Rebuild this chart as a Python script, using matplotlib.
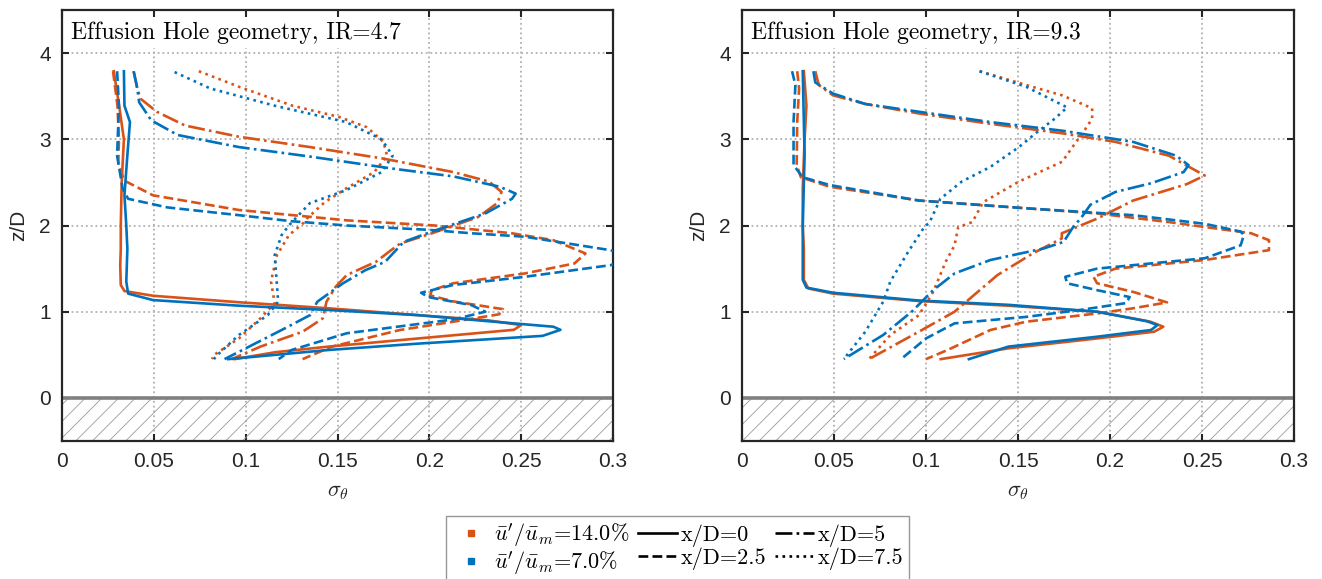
import matplotlib
matplotlib.use('Agg')
import matplotlib.pyplot as plt
from matplotlib.lines import Line2D
from matplotlib.ticker import FuncFormatter

plt.rcParams['font.family'] = ['Liberation Sans', 'DejaVu Sans']
plt.rcParams['mathtext.fontset'] = 'cm'
plt.rcParams['hatch.color'] = '#9a9a9a'
plt.rcParams['hatch.linewidth'] = 0.6

orange = '#D95319'
blue = '#0072BD'

# ---- IR=4.7 : sigma_theta (s) against z/D (z) ----
# u'/u_m = 14.0 %
a_hi_0_s = [0.0282, 0.0311, 0.0337, 0.0325, 0.032, 0.032, 0.0317, 0.032, 0.034, 0.0496, 0.0963, 0.145, 0.194, 0.232, 0.250, 0.246, 0.194, 0.145, 0.116, 0.094]
a_hi_0_z = [3.79, 3.39, 3.0, 2.5, 2.0, 1.73, 1.54, 1.31, 1.24, 1.185, 1.11, 1.04, 0.96, 0.90, 0.845, 0.79, 0.69, 0.595, 0.53, 0.45]
a_hi_25_s = [0.0278, 0.0302, 0.031, 0.0306, 0.034, 0.0496, 0.0963, 0.155, 0.203, 0.245, 0.2675, 0.285, 0.279, 0.252, 0.213, 0.2014, 0.2004, 0.213, 0.240, 0.238, 0.213, 0.184, 0.147, 0.131]
a_hi_25_z = [3.79, 3.39, 3.0, 2.7, 2.52, 2.35, 2.18, 2.06, 2.0, 1.91, 1.83, 1.676, 1.56, 1.444, 1.33, 1.25, 1.19, 1.12, 1.03, 0.97, 0.884, 0.788, 0.595, 0.45]
a_hi_5_s = [0.039, 0.041, 0.0428, 0.0516, 0.067, 0.0963, 0.135, 0.174, 0.213, 0.2325, 0.2393, 0.237, 0.2267, 0.2014, 0.184, 0.178, 0.171, 0.155, 0.149, 0.144, 0.142, 0.131, 0.108, 0.0924]
a_hi_5_z = [3.79, 3.59, 3.47, 3.32, 3.16, 3.03, 2.91, 2.78, 2.62, 2.51, 2.39, 2.26, 2.1, 1.91, 1.79, 1.695, 1.58, 1.425, 1.29, 1.116, 0.923, 0.768, 0.595, 0.45]
a_hi_75_s = [0.0745, 0.0963, 0.1255, 0.1508, 0.166, 0.175, 0.177, 0.170, 0.1547, 0.143, 0.1333, 0.131, 0.1236, 0.117, 0.1138, 0.1158, 0.108, 0.0963, 0.0827, 0.0817]
a_hi_75_z = [3.79, 3.61, 3.39, 3.26, 3.14, 2.97, 2.81, 2.62, 2.43, 2.27, 2.08, 2.02, 1.89, 1.656, 1.35, 1.1, 0.923, 0.69, 0.498, 0.45]
# u'/u_m = 7.0 %
a_lo_0_s = [0.0337, 0.034, 0.037, 0.0356, 0.034, 0.035, 0.0356, 0.035, 0.036, 0.0496, 0.0963, 0.145, 0.194, 0.232, 0.2675, 0.2714, 0.2617, 0.194, 0.145, 0.0905]
a_lo_0_z = [3.79, 3.39, 3.2, 2.82, 2.35, 2.0, 1.73, 1.35, 1.21, 1.135, 1.07, 1.02, 0.96, 0.89, 0.826, 0.79, 0.72, 0.63, 0.556, 0.45]
a_lo_25_s = [0.030, 0.031, 0.030, 0.033, 0.036, 0.0574, 0.0963, 0.125, 0.155, 0.1994, 0.223, 0.252, 0.2986, 0.312, 0.2986, 0.252, 0.213, 0.1955, 0.1994, 0.2228, 0.2305, 0.213, 0.155, 0.125, 0.118]
a_lo_25_z = [3.79, 3.39, 2.81, 2.43, 2.31, 2.21, 2.12, 2.05, 2.0, 1.95, 1.91, 1.87, 1.714, 1.63, 1.54, 1.405, 1.31, 1.22, 1.17, 1.077, 1.0, 0.91, 0.75, 0.556, 0.45]
a_lo_5_s = [0.039, 0.041, 0.042, 0.0486, 0.063, 0.0963, 0.135, 0.18, 0.213, 0.2383, 0.247, 0.245, 0.2305, 0.2014, 0.186, 0.176, 0.165, 0.153, 0.139, 0.135, 0.1196, 0.0885]
a_lo_5_z = [3.79, 3.59, 3.43, 3.22, 3.05, 2.91, 2.8, 2.66, 2.57, 2.45, 2.37, 2.31, 2.14, 1.93, 1.81, 1.58, 1.48, 1.33, 1.116, 0.96, 0.788, 0.45]
a_lo_75_s = [0.0613, 0.0807, 0.1158, 0.1547, 0.174, 0.18, 0.174, 0.1547, 0.135, 0.1235, 0.1196, 0.1158, 0.1177, 0.112, 0.0963, 0.0846, 0.0827]
a_lo_75_z = [3.78, 3.59, 3.39, 3.2, 3.0, 2.81, 2.62, 2.41, 2.26, 2.0, 1.89, 1.656, 1.116, 0.96, 0.73, 0.498, 0.45]

# ---- IR=9.3 ----
b_hi_0_s = [0.0336, 0.035, 0.034, 0.033, 0.033, 0.0336, 0.0336, 0.036, 0.0495, 0.0961, 0.1447, 0.193, 0.222, 0.229, 0.224, 0.193, 0.1447, 0.108]
b_hi_0_z = [3.79, 3.39, 3.0, 2.43, 2.0, 1.73, 1.37, 1.27, 1.21, 1.124, 1.07, 1.0, 0.884, 0.826, 0.768, 0.69, 0.575, 0.45]
b_hi_25_s = [0.030, 0.031, 0.030, 0.0297, 0.032, 0.0476, 0.0961, 0.1544, 0.193, 0.232, 0.2767, 0.2864, 0.2864, 0.2515, 0.203, 0.191, 0.193, 0.2126, 0.231, 0.2126, 0.193, 0.1544, 0.135, 0.1117, 0.100]
b_hi_25_z = [3.79, 3.59, 3.2, 2.7, 2.56, 2.45, 2.29, 2.2, 2.14, 2.04, 1.91, 1.83, 1.714, 1.6, 1.5, 1.405, 1.33, 1.23, 1.108, 1.04, 0.98, 0.884, 0.788, 0.556, 0.45]
b_hi_5_s = [0.0398, 0.0417, 0.0495, 0.067, 0.0961, 0.135, 0.174, 0.203, 0.232, 0.2515, 0.2417, 0.2126, 0.193, 0.1738, 0.1738, 0.158, 0.1388, 0.1155, 0.0961, 0.069]
b_hi_5_z = [3.79, 3.63, 3.51, 3.41, 3.3, 3.18, 3.07, 2.97, 2.81, 2.58, 2.48, 2.29, 2.08, 1.91, 1.85, 1.676, 1.425, 1.0, 0.768, 0.45]
b_hi_75_s = [0.1291, 0.1544, 0.174, 0.1903, 0.1903, 0.1854, 0.1816, 0.174, 0.1505, 0.131, 0.1252, 0.1175, 0.1155, 0.1107, 0.1039, 0.0961, 0.0806, 0.069]
b_hi_75_z = [3.79, 3.63, 3.51, 3.36, 3.24, 3.08, 2.97, 2.74, 2.51, 2.27, 2.04, 1.98, 1.77, 1.58, 1.23, 0.96, 0.73, 0.45]
b_lo_0_s = [0.0330, 0.034, 0.033, 0.033, 0.035, 0.0495, 0.0961, 0.1447, 0.193, 0.22, 0.2258, 0.2223, 0.193, 0.1447, 0.1233]
b_lo_0_z = [3.79, 2.81, 2.0, 1.37, 1.28, 1.22, 1.13, 1.08, 1.0, 0.89, 0.845, 0.788, 0.71, 0.595, 0.45]
b_lo_25_s = [0.0272, 0.029, 0.028, 0.028, 0.033, 0.0476, 0.0961, 0.1544, 0.2126, 0.2515, 0.271, 0.2728, 0.271, 0.2515, 0.193, 0.1757, 0.1767, 0.193, 0.2107, 0.2087, 0.1835, 0.1544, 0.1155, 0.100, 0.0864]
b_lo_25_z = [3.79, 3.63, 3.2, 2.7, 2.56, 2.47, 2.29, 2.2, 2.12, 2.02, 1.93, 1.89, 1.77, 1.62, 1.5, 1.405, 1.33, 1.25, 1.17, 1.1, 1.02, 0.94, 0.865, 0.69, 0.45]
b_lo_5_s = [0.0388, 0.0398, 0.0495, 0.067, 0.0961, 0.135, 0.174, 0.2126, 0.236, 0.2427, 0.24, 0.2223, 0.203, 0.1893, 0.1854, 0.1796, 0.1748, 0.164, 0.135, 0.1155, 0.1039, 0.0922, 0.0767, 0.0553]
b_lo_5_z = [3.79, 3.66, 3.53, 3.41, 3.32, 3.2, 3.1, 2.97, 2.81, 2.7, 2.62, 2.49, 2.39, 2.24, 2.12, 1.97, 1.81, 1.734, 1.6, 1.444, 1.25, 1.0, 0.73, 0.45]
b_lo_75_s = [0.1291, 0.1544, 0.1767, 0.17, 0.1602, 0.1505, 0.135, 0.1194, 0.1078, 0.102, 0.099, 0.0903, 0.0806, 0.0767, 0.067, 0.0553]
b_lo_75_z = [3.79, 3.61, 3.37, 3.24, 3.08, 2.91, 2.68, 2.51, 2.31, 2.04, 1.98, 1.695, 1.35, 1.116, 0.768, 0.45]

titles = ['Effusion Hole geometry, IR=4.7', 'Effusion Hole geometry, IR=9.3']
xticks = [0, 0.05, 0.1, 0.15, 0.2, 0.25, 0.3]
yticks = [0, 1, 2, 3, 4]
styles = ['-', '--', '-.', ':']
xd_labels = ['x/D=0', 'x/D=2.5', 'x/D=5', 'x/D=7.5']
ti_labels = ["$\\bar{u}'/\\bar{u}_m$=14.0%", "$\\bar{u}'/\\bar{u}_m$=7.0%"]

panels = [
    [[(a_hi_0_s, a_hi_0_z), (a_hi_25_s, a_hi_25_z), (a_hi_5_s, a_hi_5_z), (a_hi_75_s, a_hi_75_z)],
     [(a_lo_0_s, a_lo_0_z), (a_lo_25_s, a_lo_25_z), (a_lo_5_s, a_lo_5_z), (a_lo_75_s, a_lo_75_z)]],
    [[(b_hi_0_s, b_hi_0_z), (b_hi_25_s, b_hi_25_z), (b_hi_5_s, b_hi_5_z), (b_hi_75_s, b_hi_75_z)],
     [(b_lo_0_s, b_lo_0_z), (b_lo_25_s, b_lo_25_z), (b_lo_5_s, b_lo_5_z), (b_lo_75_s, b_lo_75_z)]],
]

serif = ['cmr10', 'DejaVu Serif']
fig = plt.figure(figsize=(13.22, 5.79), dpi=100)
ax_pos = [[0.0469, 0.2383, 0.4168, 0.7444], [0.5613, 0.2383, 0.4175, 0.7444]]
dark = '#262626'

for p in range(2):
    ax = fig.add_axes(ax_pos[p])
    # wall below z/D=0
    ax.fill_between([0, 0.3], -0.5, 0, facecolor='none', edgecolor='#9a9a9a', hatch='//', linewidth=0, zorder=1)
    ax.axhline(0, color='#808080', lw=2.6, zorder=2)
    for c, col in enumerate([orange, blue]):
        for k in range(4):
            s, z = panels[p][c][k]
            ax.plot(s, z, color=col, ls=styles[k], lw=1.9, zorder=3)
    ax.set_xlim(0, 0.3)
    ax.set_ylim(-0.5, 4.5)
    ax.set_xticks(xticks)
    ax.set_yticks(yticks)
    ax.xaxis.set_major_formatter(FuncFormatter(lambda v, pos: ('%g' % round(v, 2))))
    ax.grid(True, color='#b0b0b0', ls=':', lw=1.3)
    ax.set_axisbelow(True)
    ax.tick_params(direction='in', length=5, width=1.5, top=True, right=True,
                   labelsize=15, colors=dark, pad=8)
    for sp in ax.spines.values():
        sp.set_linewidth(1.6)
        sp.set_color(dark)
    ax.set_xlabel('$\\sigma_\\theta$', fontsize=16, color=dark, labelpad=7)
    ax.set_ylabel('z/D', fontsize=15, color=dark, labelpad=8)
    ax.text(0.005, 4.37, titles[p], family=serif,
            fontsize=17, va='top', ha='left', zorder=5,
            bbox=dict(facecolor='white', edgecolor='none', pad=3))

handles = [Line2D([], [], color=orange, marker='s', ls='none', markersize=5),
           Line2D([], [], color=blue, marker='s', ls='none', markersize=5),
           Line2D([], [], color='k', ls='-', lw=1.9),
           Line2D([], [], color='k', ls='--', lw=1.9),
           Line2D([], [], color='k', ls='-.', lw=1.9),
           Line2D([], [], color='k', ls=':', lw=1.9)]
labels = [ti_labels[0], ti_labels[1], xd_labels[0], xd_labels[1], xd_labels[2], xd_labels[3]]
leg = fig.legend(handles, labels, ncol=3, loc='upper center', bbox_to_anchor=(0.5125, 0.109),
                 frameon=True, fancybox=False, edgecolor='#7f7f7f',
                 handlelength=1.75, handletextpad=0.15, columnspacing=0.4, labelspacing=0.0,
                 borderpad=0.25, borderaxespad=0, prop={'family': serif, 'size': 16})
leg.get_frame().set_linewidth(1.0)

plt.savefig('out.png', dpi=100)
